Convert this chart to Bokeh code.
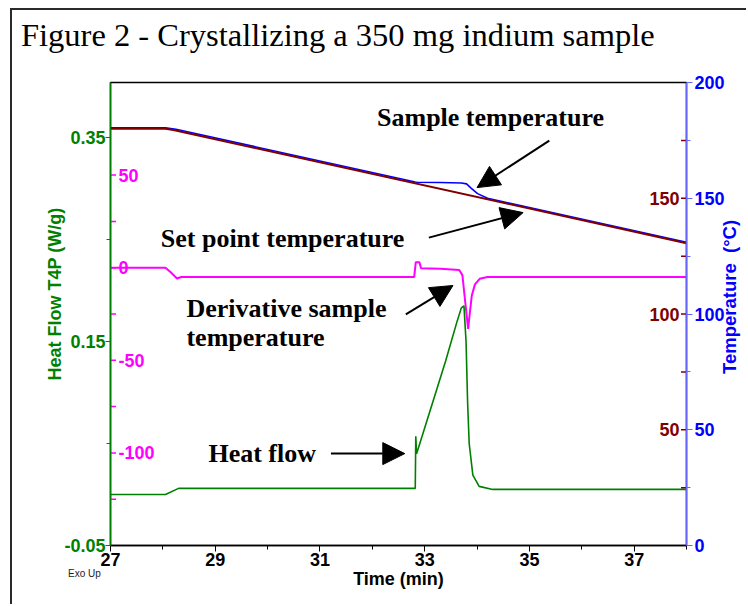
from bokeh.plotting import figure
from bokeh.models import Range1d, LinearAxis, FixedTicker, Arrow, NormalHead, PrintfTickFormatter, Div
from bokeh.layouts import column
from bokeh.core.properties import value
from bokeh.embed import file_html
from bokeh.resources import INLINE

# ---------------- data ----------------
time_set = [27.0, 28.05, 28.2, 38.0]
temp_set = [180.0, 180.0, 179.5, 130.6]

time_sample = [27.0, 28.05, 28.25, 32.82, 32.86, 33.30, 33.70, 33.80, 33.88, 34.01, 34.20, 38.0]
temp_sample = [180.4, 180.4, 179.8, 157.0, 156.9, 156.8, 156.6, 156.2, 154.5, 152.0, 150.0, 131.0]

time_deriv = [27.0, 28.05, 28.15, 28.27, 28.35, 32.80, 32.83, 32.90, 32.93, 33.30, 33.66, 33.72,
              33.78, 33.83, 33.86, 33.90, 33.96, 34.05, 34.20, 38.0]
deriv = [0.0, 0.0, -2.5, -5.8, -5.0, -5.0, 3.0, 3.0, -0.3, -0.6, -1.2, -4.0,
         -20.0, -33.0, -25.0, -15.0, -9.0, -6.0, -5.0, -5.0]

time_hf = [27.0, 28.05, 28.3, 32.82, 32.83, 32.845, 32.87, 33.40, 33.62, 33.70, 33.75, 33.79,
           33.82, 33.85, 33.92, 34.04, 34.30, 38.0]
heat_flow = [0.0, 0.0, 0.006, 0.006, 0.057, 0.040, 0.044, 0.131, 0.170, 0.183, 0.185, 0.150,
             0.090, 0.050, 0.019, 0.008, 0.005, 0.005]

time_ticks = [27, 29, 31, 33, 35, 37]
time_minor = [28, 30, 32, 34, 36, 38]
hf_ticks = [-0.05, 0.15, 0.35]
hf_minor = [0.05, 0.25]
temp_ticks = [0, 50, 100, 150, 200]
temp_minor = [25, 75, 125, 175]
set_labels = [50, 100, 150]
set_tick_marks = [25, 50, 75, 100, 125, 150, 175]
deriv_labels = [50, 0, -50, -100]
deriv_tick_marks = [50, 25, 0, -25, -50, -75, -100, -125]

title_text = "Figure 2 - Crystallizing a 350 mg indium sample"
note_texts = ["Sample temperature", "Set point temperature", "Derivative sample", "temperature", "Heat flow"]

# annotation positions (time, temperature units)
note_x = [32.09, 27.96, 28.45, 28.45, 28.87]
note_y = [184.9, 132.6, 102.5, 89.9, 39.7]
arrows = [  # x_start, y_start, x_end, y_end
    (35.38, 174.9, 34.00, 154.6),
    (33.08, 133.0, 34.88, 143.8),
    (32.64, 99.8, 33.54, 112.3),
    (31.21, 39.7, 32.62, 39.7),
]

GREEN = "#008000"
PINK = "#FF00FF"
BLUE = "#0000FF"
BROWN = "#800000"
SANS = "Liberation Sans"
SERIF = "Liberation Serif"

p = figure(width=736, height=596, output_backend="svg", toolbar_location=None,
           x_range=Range1d(27, 38), y_range=Range1d(-0.05, 0.404),
           min_border_left=98, min_border_right=62, min_border_top=72, min_border_bottom=61)
p.styles = {"margin-left": "10px", "margin-top": "8px",
            "border-left": "2px solid #2a2a2a", "border-top": "2px solid #2a2a2a"}
p.extra_y_ranges = {"temp": Range1d(0, 200), "deriv": Range1d(-150, 100)}
p.grid.visible = False
p.outline_line_color = "black"
p.outline_line_width = 1.5
p.background_fill_color = "white"
p.border_fill_color = "white"
p.title.visible = False

def style_axis(ax, color, line_color=None):
    ax.axis_line_color = line_color or color
    ax.axis_line_width = 1.5
    ax.major_tick_line_color = line_color or color
    ax.minor_tick_line_color = line_color or color
    ax.major_tick_out = 6
    ax.major_tick_in = 0
    ax.minor_tick_out = 4
    ax.minor_tick_in = 0
    ax.major_label_text_color = color
    ax.major_label_text_font = SANS
    ax.major_label_text_font_style = "bold"
    ax.major_label_text_font_size = "18px"
    ax.major_label_standoff = 2
    ax.axis_label_text_color = color
    ax.axis_label_text_font = SANS
    ax.axis_label_text_font_style = "bold"
    ax.axis_label_text_font_size = "18px"
    ax.axis_label_standoff = 3

xax = p.xaxis[0]
xax.ticker = FixedTicker(ticks=time_ticks, minor_ticks=time_minor)
xax.axis_label = "Time (min)"
style_axis(xax, "black")
xax.axis_label_standoff = 0
xax.major_label_standoff = 1

yax = p.yaxis[0]
yax.ticker = FixedTicker(ticks=hf_ticks, minor_ticks=hf_minor)
yax.formatter = PrintfTickFormatter(format="%.2f")
yax.axis_label = "\u00a0" * 8 + "Heat Flow T4P (W/g)"
style_axis(yax, GREEN)
yax.major_tick_out = 5
yax.major_label_standoff = 0
yax.axis_label_standoff = -4

rax = LinearAxis(y_range_name="temp", ticker=FixedTicker(ticks=temp_ticks, minor_ticks=temp_minor))
style_axis(rax, BLUE, "#6666FF")
p.add_layout(rax, "right")

# curves
p.line(time_sample, temp_sample, y_range_name="temp", line_color=BLUE, line_width=1.6)
p.line(time_set, temp_set, y_range_name="temp", line_color=BROWN, line_width=2)
p.line(time_deriv, deriv, y_range_name="deriv", line_color=PINK, line_width=2)
p.line(time_hf, heat_flow, line_color=GREEN, line_width=1.6)

x0 = p.x_range.start
x1 = p.x_range.end

# inner derivative scale (pink)
p.scatter([x0] * len(deriv_tick_marks), deriv_tick_marks, y_range_name="deriv", marker="dash",
          size=11, line_color=PINK, line_width=1.5)
p.text([x0] * len(deriv_labels), deriv_labels, text=[str(v) for v in deriv_labels], y_range_name="deriv",
       x_offset=8, text_align="left", text_baseline="middle", text_font=value(SANS),
       text_font_style="bold", text_font_size="18px", text_color=PINK)

# inner set point scale (brown)
p.scatter([x1] * len(set_tick_marks), set_tick_marks, y_range_name="temp", marker="dash",
          size=11, line_color=BROWN, line_width=1.5)
p.text([x1] * len(set_labels), set_labels, text=[str(v) for v in set_labels], y_range_name="temp",
       x_offset=-7, text_align="right", text_baseline="middle", text_font=value(SANS),
       text_font_style="bold", text_font_size="18px", text_color=BROWN)

# annotations
p.text(note_x, note_y, text=note_texts, y_range_name="temp", text_align="left", text_baseline="middle",
       text_font=value(SERIF), text_font_style="bold", text_font_size="26px", text_color="black")
for xs, ys, xe, ye in arrows:
    p.add_layout(Arrow(end=NormalHead(size=22, fill_color="black", line_color="black"),
                       x_start=xs, y_start=ys, x_end=xe, y_end=ye, y_range_name="temp",
                       line_color="black", line_width=2))

# texts placed outside the plotting frame
title_div = Div(text=title_text, margin=0,
                styles={"position": "absolute", "left": "21px", "top": "19px", "white-space": "nowrap",
                        "font-family": SERIF, "font-size": "32.5px", "line-height": "1",
                        "color": "black"})
temp_label = Div(text="Temperature&nbsp; (°C)", margin=0,
                 styles={"position": "absolute", "left": "721px", "top": "374px", "white-space": "nowrap",
                         "font-family": SANS, "font-size": "18.5px", "font-weight": "bold",
                         "line-height": "1", "color": BLUE,
                         "transform": "rotate(-90deg)", "transform-origin": "left top"})
exo = Div(text="Exo Up", margin=0,
          styles={"position": "absolute", "left": "68px", "top": "567px", "white-space": "nowrap",
                  "font-family": SANS, "font-size": "10px", "color": "#222222"})

page = column(p, title_div, temp_label, exo)
open("out.html", "w").write(file_html(page, INLINE))
